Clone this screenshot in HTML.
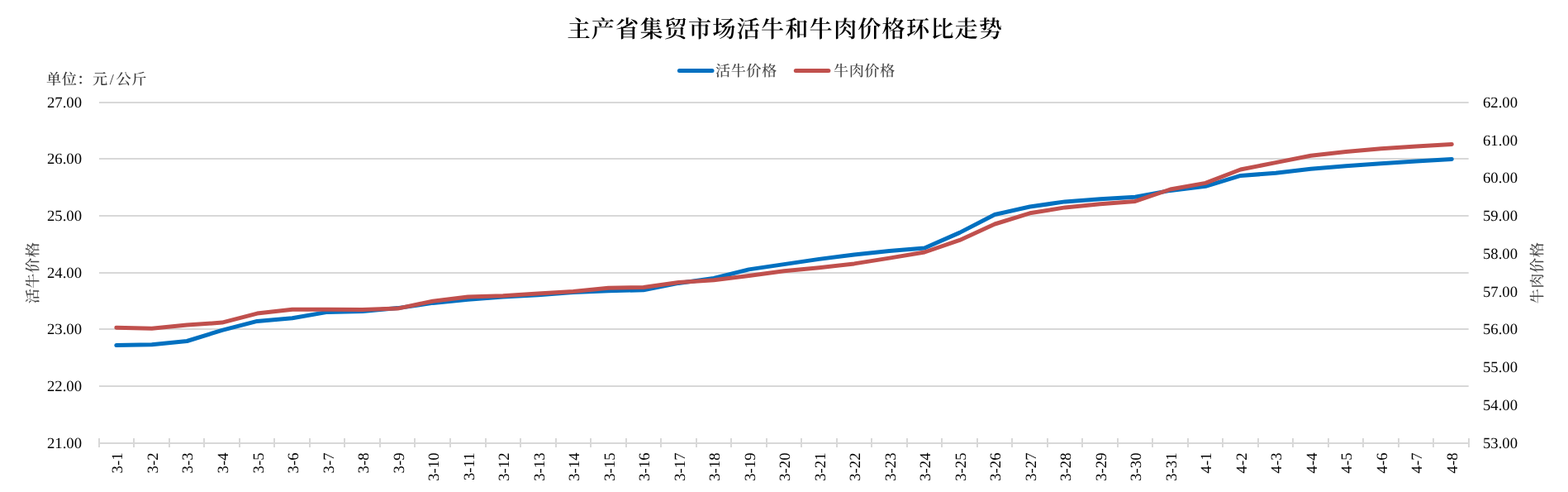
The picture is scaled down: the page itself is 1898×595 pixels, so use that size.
<!DOCTYPE html>
<html lang="zh-CN">
<head>
<meta charset="utf-8">
<title>主产省集贸市场活牛和牛肉价格环比走势</title>
<style>
html,body{margin:0;padding:0;background:#fff;}
body{width:1898px;height:595px;overflow:hidden;}
svg{display:block;}
text{font-family:"Liberation Serif","Noto Serif CJK SC",serif;text-rendering:geometricPrecision;}
.num{font-size:18.67px;fill:#000;}
.cjk{font-size:18.2px;fill:#454545;font-weight:500;letter-spacing:0.47px;}
.title{font-size:28.2px;font-weight:600;fill:#000;letter-spacing:1.13px;}
.xl{font-size:18.67px;fill:#000;}
</style>
</head>
<body>
<svg width="1898" height="595" viewBox="0 0 1898 595">
<rect width="1898" height="595" fill="#fff"/>
<text class="title" x="950.3" y="45.4" text-anchor="middle">主产省集贸市场活牛和牛肉价格环比走势</text>
<line x1="822.4" y1="85.5" x2="862" y2="85.5" stroke="#0070c0" stroke-width="5" stroke-linecap="round"/>
<text class="cjk" x="866" y="91.5">活牛价格</text>
<line x1="963.3" y1="85.5" x2="1002.9" y2="85.5" stroke="#c0504d" stroke-width="5" stroke-linecap="round"/>
<text class="cjk" x="1009" y="91.5">牛肉价格</text>
<text class="cjk" x="56" y="102" style="fill:#333">单位：元<tspan dx="2.2">/</tspan><tspan dx="2.2">公斤</tspan></text>
<line x1="120.0" y1="124" x2="1777.7" y2="124" stroke="#d8d8d8" stroke-width="2"/>
<line x1="120.0" y1="192" x2="1777.7" y2="192" stroke="#d8d8d8" stroke-width="2"/>
<line x1="120.0" y1="261" x2="1777.7" y2="261" stroke="#d8d8d8" stroke-width="2"/>
<line x1="120.0" y1="330" x2="1777.7" y2="330" stroke="#d8d8d8" stroke-width="2"/>
<line x1="120.0" y1="398" x2="1777.7" y2="398" stroke="#d8d8d8" stroke-width="2"/>
<line x1="120.0" y1="467" x2="1777.7" y2="467" stroke="#d8d8d8" stroke-width="2"/>
<line x1="119.0" y1="536" x2="1779.0" y2="536" stroke="#d8d8d8" stroke-width="2"/>
<line x1="120" y1="530" x2="120" y2="541" stroke="#d8d8d8" stroke-width="2"/>
<line x1="162" y1="530" x2="162" y2="541" stroke="#d8d8d8" stroke-width="2"/>
<line x1="205" y1="530" x2="205" y2="541" stroke="#d8d8d8" stroke-width="2"/>
<line x1="247" y1="530" x2="247" y2="541" stroke="#d8d8d8" stroke-width="2"/>
<line x1="290" y1="530" x2="290" y2="541" stroke="#d8d8d8" stroke-width="2"/>
<line x1="332" y1="530" x2="332" y2="541" stroke="#d8d8d8" stroke-width="2"/>
<line x1="375" y1="530" x2="375" y2="541" stroke="#d8d8d8" stroke-width="2"/>
<line x1="417" y1="530" x2="417" y2="541" stroke="#d8d8d8" stroke-width="2"/>
<line x1="460" y1="530" x2="460" y2="541" stroke="#d8d8d8" stroke-width="2"/>
<line x1="502" y1="530" x2="502" y2="541" stroke="#d8d8d8" stroke-width="2"/>
<line x1="545" y1="530" x2="545" y2="541" stroke="#d8d8d8" stroke-width="2"/>
<line x1="588" y1="530" x2="588" y2="541" stroke="#d8d8d8" stroke-width="2"/>
<line x1="630" y1="530" x2="630" y2="541" stroke="#d8d8d8" stroke-width="2"/>
<line x1="673" y1="530" x2="673" y2="541" stroke="#d8d8d8" stroke-width="2"/>
<line x1="715" y1="530" x2="715" y2="541" stroke="#d8d8d8" stroke-width="2"/>
<line x1="758" y1="530" x2="758" y2="541" stroke="#d8d8d8" stroke-width="2"/>
<line x1="800" y1="530" x2="800" y2="541" stroke="#d8d8d8" stroke-width="2"/>
<line x1="843" y1="530" x2="843" y2="541" stroke="#d8d8d8" stroke-width="2"/>
<line x1="885" y1="530" x2="885" y2="541" stroke="#d8d8d8" stroke-width="2"/>
<line x1="928" y1="530" x2="928" y2="541" stroke="#d8d8d8" stroke-width="2"/>
<line x1="970" y1="530" x2="970" y2="541" stroke="#d8d8d8" stroke-width="2"/>
<line x1="1013" y1="530" x2="1013" y2="541" stroke="#d8d8d8" stroke-width="2"/>
<line x1="1055" y1="530" x2="1055" y2="541" stroke="#d8d8d8" stroke-width="2"/>
<line x1="1098" y1="530" x2="1098" y2="541" stroke="#d8d8d8" stroke-width="2"/>
<line x1="1140" y1="530" x2="1140" y2="541" stroke="#d8d8d8" stroke-width="2"/>
<line x1="1183" y1="530" x2="1183" y2="541" stroke="#d8d8d8" stroke-width="2"/>
<line x1="1225" y1="530" x2="1225" y2="541" stroke="#d8d8d8" stroke-width="2"/>
<line x1="1268" y1="530" x2="1268" y2="541" stroke="#d8d8d8" stroke-width="2"/>
<line x1="1310" y1="530" x2="1310" y2="541" stroke="#d8d8d8" stroke-width="2"/>
<line x1="1353" y1="530" x2="1353" y2="541" stroke="#d8d8d8" stroke-width="2"/>
<line x1="1395" y1="530" x2="1395" y2="541" stroke="#d8d8d8" stroke-width="2"/>
<line x1="1438" y1="530" x2="1438" y2="541" stroke="#d8d8d8" stroke-width="2"/>
<line x1="1480" y1="530" x2="1480" y2="541" stroke="#d8d8d8" stroke-width="2"/>
<line x1="1523" y1="530" x2="1523" y2="541" stroke="#d8d8d8" stroke-width="2"/>
<line x1="1565" y1="530" x2="1565" y2="541" stroke="#d8d8d8" stroke-width="2"/>
<line x1="1608" y1="530" x2="1608" y2="541" stroke="#d8d8d8" stroke-width="2"/>
<line x1="1650" y1="530" x2="1650" y2="541" stroke="#d8d8d8" stroke-width="2"/>
<line x1="1693" y1="530" x2="1693" y2="541" stroke="#d8d8d8" stroke-width="2"/>
<line x1="1735" y1="530" x2="1735" y2="541" stroke="#d8d8d8" stroke-width="2"/>
<line x1="1778" y1="530" x2="1778" y2="541" stroke="#d8d8d8" stroke-width="2"/>
<text class="num" transform="translate(57,130.1)">27.00</text>
<text class="num" transform="translate(57,198.1)">26.00</text>
<text class="num" transform="translate(57,267.1)">25.00</text>
<text class="num" transform="translate(57,336.1)">24.00</text>
<text class="num" transform="translate(57,404.1)">23.00</text>
<text class="num" transform="translate(57,473.1)">22.00</text>
<text class="num" transform="translate(57,542.1)">21.00</text>
<text class="num" transform="translate(1795,129.7)">62.00</text>
<text class="num" transform="translate(1795,175.5)">61.00</text>
<text class="num" transform="translate(1795,221.3)">60.00</text>
<text class="num" transform="translate(1795,267.0)">59.00</text>
<text class="num" transform="translate(1795,312.8)">58.00</text>
<text class="num" transform="translate(1795,358.6)">57.00</text>
<text class="num" transform="translate(1795,404.4)">56.00</text>
<text class="num" transform="translate(1795,450.1)">55.00</text>
<text class="num" transform="translate(1795,495.9)">54.00</text>
<text class="num" transform="translate(1795,541.7)">53.00</text>
<text class="cjk" transform="translate(45.5,330) rotate(-90)" text-anchor="middle">活牛价格</text>
<text class="cjk" transform="translate(1866.5,330) rotate(-90)" text-anchor="middle">牛肉价格</text>
<text class="xl" transform="translate(148.46,547.5) rotate(-90)" text-anchor="end">3-1</text>
<text class="xl" transform="translate(190.97,547.5) rotate(-90)" text-anchor="end">3-2</text>
<text class="xl" transform="translate(233.48,547.5) rotate(-90)" text-anchor="end">3-3</text>
<text class="xl" transform="translate(275.99,547.5) rotate(-90)" text-anchor="end">3-4</text>
<text class="xl" transform="translate(318.50,547.5) rotate(-90)" text-anchor="end">3-5</text>
<text class="xl" transform="translate(361.00,547.5) rotate(-90)" text-anchor="end">3-6</text>
<text class="xl" transform="translate(403.52,547.5) rotate(-90)" text-anchor="end">3-7</text>
<text class="xl" transform="translate(446.03,547.5) rotate(-90)" text-anchor="end">3-8</text>
<text class="xl" transform="translate(488.54,547.5) rotate(-90)" text-anchor="end">3-9</text>
<text class="xl" transform="translate(531.04,547.5) rotate(-90)" text-anchor="end">3-10</text>
<text class="xl" transform="translate(573.55,547.5) rotate(-90)" text-anchor="end">3-11</text>
<text class="xl" transform="translate(616.06,547.5) rotate(-90)" text-anchor="end">3-12</text>
<text class="xl" transform="translate(658.57,547.5) rotate(-90)" text-anchor="end">3-13</text>
<text class="xl" transform="translate(701.08,547.5) rotate(-90)" text-anchor="end">3-14</text>
<text class="xl" transform="translate(743.59,547.5) rotate(-90)" text-anchor="end">3-15</text>
<text class="xl" transform="translate(786.10,547.5) rotate(-90)" text-anchor="end">3-16</text>
<text class="xl" transform="translate(828.61,547.5) rotate(-90)" text-anchor="end">3-17</text>
<text class="xl" transform="translate(871.12,547.5) rotate(-90)" text-anchor="end">3-18</text>
<text class="xl" transform="translate(913.63,547.5) rotate(-90)" text-anchor="end">3-19</text>
<text class="xl" transform="translate(956.14,547.5) rotate(-90)" text-anchor="end">3-20</text>
<text class="xl" transform="translate(998.65,547.5) rotate(-90)" text-anchor="end">3-21</text>
<text class="xl" transform="translate(1041.16,547.5) rotate(-90)" text-anchor="end">3-22</text>
<text class="xl" transform="translate(1083.67,547.5) rotate(-90)" text-anchor="end">3-23</text>
<text class="xl" transform="translate(1126.18,547.5) rotate(-90)" text-anchor="end">3-24</text>
<text class="xl" transform="translate(1168.69,547.5) rotate(-90)" text-anchor="end">3-25</text>
<text class="xl" transform="translate(1211.20,547.5) rotate(-90)" text-anchor="end">3-26</text>
<text class="xl" transform="translate(1253.71,547.5) rotate(-90)" text-anchor="end">3-27</text>
<text class="xl" transform="translate(1296.22,547.5) rotate(-90)" text-anchor="end">3-28</text>
<text class="xl" transform="translate(1338.73,547.5) rotate(-90)" text-anchor="end">3-29</text>
<text class="xl" transform="translate(1381.24,547.5) rotate(-90)" text-anchor="end">3-30</text>
<text class="xl" transform="translate(1423.75,547.5) rotate(-90)" text-anchor="end">3-31</text>
<text class="xl" transform="translate(1466.26,547.5) rotate(-90)" text-anchor="end">4-1</text>
<text class="xl" transform="translate(1508.78,547.5) rotate(-90)" text-anchor="end">4-2</text>
<text class="xl" transform="translate(1551.29,547.5) rotate(-90)" text-anchor="end">4-3</text>
<text class="xl" transform="translate(1593.80,547.5) rotate(-90)" text-anchor="end">4-4</text>
<text class="xl" transform="translate(1636.31,547.5) rotate(-90)" text-anchor="end">4-5</text>
<text class="xl" transform="translate(1678.82,547.5) rotate(-90)" text-anchor="end">4-6</text>
<text class="xl" transform="translate(1721.33,547.5) rotate(-90)" text-anchor="end">4-7</text>
<text class="xl" transform="translate(1763.84,547.5) rotate(-90)" text-anchor="end">4-8</text>
<polyline points="140.8,417.6 183.8,416.7 226.3,412.5 268.8,399.4 311.3,388.4 353.8,384.7 396.3,377.4 438.8,376.5 481.4,372.6 523.9,366.4 566.4,362.2 608.9,359.1 651.4,356.8 693.9,353.4 736.4,351.7 778.9,350.8 821.5,342.4 864.0,336.5 906.5,325.9 949.0,319.6 991.5,313.4 1034.0,307.9 1076.5,303.4 1119.1,300.0 1161.6,281.4 1204.1,259.5 1246.6,250.0 1289.1,243.9 1331.6,240.8 1374.1,238.3 1416.6,230.4 1459.2,225.3 1501.7,212.4 1544.2,209.3 1586.7,204.2 1629.2,200.8 1671.7,197.8 1714.2,194.9 1757.3,192.4" fill="none" stroke="#0070c0" stroke-width="5" stroke-linecap="round" stroke-linejoin="round"/>
<polyline points="140.8,396.2 183.8,397.3 226.3,393.1 268.8,390.1 311.3,379.1 353.8,374.2 396.3,374.2 438.8,374.5 481.4,373.1 523.9,364.2 566.4,359.1 608.9,357.8 651.4,354.9 693.9,352.6 736.4,348.3 778.9,347.5 821.5,341.5 864.0,338.7 906.5,333.6 949.0,327.7 991.5,323.7 1034.0,318.9 1076.5,312.1 1119.1,305.0 1161.6,290.4 1204.1,271.0 1246.6,257.8 1289.1,250.9 1331.6,246.7 1374.1,243.4 1416.6,229.0 1459.2,221.4 1501.7,205.0 1544.2,196.6 1586.7,188.2 1629.2,183.6 1671.7,179.7 1714.2,176.9 1757.3,174.4" fill="none" stroke="#c0504d" stroke-width="5" stroke-linecap="round" stroke-linejoin="round"/>
</svg>
</body>
</html>
